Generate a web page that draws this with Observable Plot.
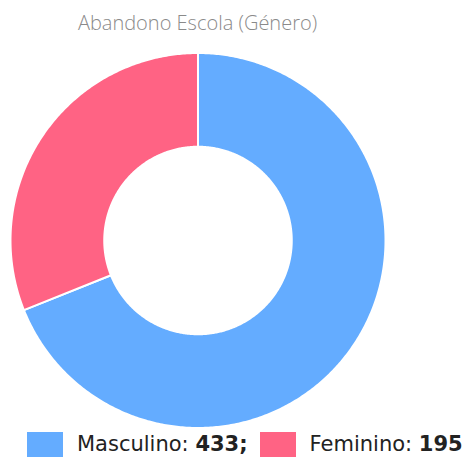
<!DOCTYPE html>
<html>
<head>
<meta charset="utf-8">
<script src="https://cdn.jsdelivr.net/npm/d3@7"></script>
<script src="https://cdn.jsdelivr.net/npm/@observablehq/plot@0.6"></script>
<style>
  html, body { margin: 0; padding: 0; background: #fff; }
  #wrap { position: relative; width: 465px; height: 457px; overflow: hidden; }
  #title { position: absolute; left: 0; top: 9px; width: 395px; text-align: center;
           font-family: "Open Sans", sans-serif; font-weight: 300; font-size: 20px; color: #8a8a8a; }
  #chart { position: absolute; left: 0; top: 40px; }
  #legend { position: absolute; left: 27px; top: 432px; display: flex; align-items: flex-start;
            font-family: "DejaVu Sans", sans-serif; font-size: 21px; color: #222; white-space: nowrap; }
  .sw { display: inline-block; width: 36px; height: 25px; }
  .lab { display: inline-block; line-height: 24px; }
</style>
</head>
<body>
<div id="wrap">
  <div id="title">Abandono Escola (Género)</div>
  <div id="chart"></div>
  <div id="legend"></div>
</div>
<script>
const categories = ["Masculino", "Feminino"];
const values = [433, 195];
const colors = ["#64acff", "#ff6384"];
const title = "Abandono Escola (Género)";

const innerRatio = 0.5;
const pie = d3.pie().sort(null).value(d => d.value);
const arcs = pie(categories.map((c, i) => ({category: c, value: values[i]})));

function ringPoint(r, a) { return [r * Math.sin(a), -r * Math.cos(a)]; }
const features = arcs.map(a => {
  const n = Math.max(8, Math.ceil((a.endAngle - a.startAngle) / 0.01));
  const outer = d3.range(n + 1).map(k => ringPoint(1, a.startAngle + (a.endAngle - a.startAngle) * k / n));
  const inner = d3.range(n + 1).map(k => ringPoint(innerRatio, a.endAngle - (a.endAngle - a.startAngle) * k / n));
  const ring = outer.concat(inner);
  ring.push(ring[0]);
  return {type: "Feature", properties: {category: a.data.category, value: a.data.value},
          geometry: {type: "Polygon", coordinates: [ring]}};
});

const chart = Plot.plot({
  width: 395,
  height: 400,
  margin: 0,
  projection: {
    type: "identity",
    domain: {type: "MultiPoint", coordinates: [[-1, -1], [1, 1]]},
    inset: 10
  },
  color: {domain: categories, range: colors},
  marks: [
    Plot.geo({type: "FeatureCollection", features}, {
      fill: d => d.properties.category,
      stroke: "white",
      strokeWidth: 2
    })
  ]
});
document.getElementById("chart").appendChild(chart);

const legend = document.getElementById("legend");
categories.forEach((c, i) => {
  const sw = document.createElement("span");
  sw.className = "sw";
  sw.style.background = colors[i];
  sw.style.marginRight = "14px";
  legend.appendChild(sw);
  const lab = document.createElement("span");
  lab.className = "lab";
  lab.innerHTML = c + ": <b>" + values[i] + (i < categories.length - 1 ? ";" : "") + "</b>";
  lab.style.marginRight = i < categories.length - 1 ? "12px" : "0";
  legend.appendChild(lab);
});
</script>
</body>
</html>
